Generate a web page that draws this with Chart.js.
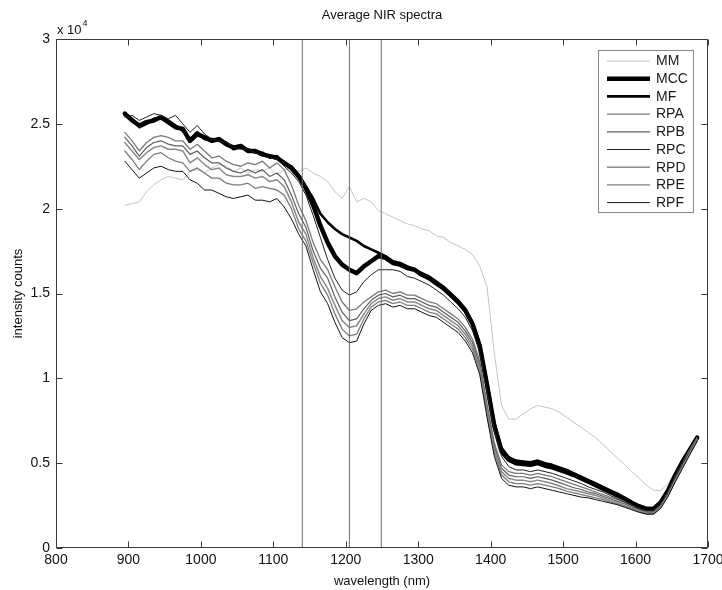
<!DOCTYPE html>
<html><head><meta charset="utf-8">
<script src="https://cdn.jsdelivr.net/npm/chart.js@4/dist/chart.umd.min.js"></script>
<style>html,body{margin:0;padding:0;background:#fff;}canvas{display:block}</style>
</head><body>
<canvas id="c" width="722" height="590"></canvas>
<script>
// wavelength (nm)
const wavelengths = [
895,905,915,925,935,945,955,965,975,985,
995,1005,1015,1025,1035,1045,1055,1065,1075,1085,
1095,1105,1115,1125,1135,1145,1155,1165,1175,1185,
1195,1205,1215,1225,1235,1245,1255,1265,1275,1285,
1295,1305,1315,1325,1335,1345,1355,1365,1375,1385,
1395,1405,1415,1425,1435,1445,1455,1465,1475,1485,
1495,1505,1515,1525,1535,1545,1555,1565,1575,1585,
1595,1605,1615,1625,1635,1645,1655,1665,1675,1685];

// intensity counts, in thousands
const MM = [
20.2,20.3,20.4,21.0,21.4,21.7,21.9,21.8,21.7,22.2,
22.3,22.1,22.4,22.6,22.5,22.2,22.4,22.1,22.3,22.2,
22.4,22.0,22.3,22.4,22.2,22.4,22.1,21.9,21.6,21.0,
20.6,21.3,20.4,20.6,20.4,19.9,19.7,19.5,19.3,19.1,
19.0,18.8,18.7,18.4,18.3,18.0,17.8,17.6,17.3,16.6,
15.4,11.5,8.4,7.6,7.6,7.9,8.2,8.4,8.3,8.2,
8.0,7.7,7.4,7.1,6.8,6.5,6.1,5.7,5.3,4.9,
4.5,4.1,3.7,3.4,3.4,3.8,4.5,5.3,5.9,6.4];
const MCC = [
25.6,25.2,24.9,25.1,25.2,25.4,25.1,24.8,24.7,24.0,
24.4,24.2,24.0,24.1,23.8,23.6,23.7,23.4,23.4,23.2,
23.1,23.0,22.7,22.4,21.9,21.2,20.2,19.0,18.0,17.2,
16.7,16.4,16.2,16.6,16.9,17.2,17.1,16.8,16.7,16.5,
16.4,16.1,15.9,15.6,15.3,14.9,14.5,14.0,13.2,11.9,
9.6,7.2,5.7,5.2,5.0,4.95,4.9,5.0,4.85,4.75,
4.6,4.45,4.3,4.1,3.9,3.7,3.5,3.3,3.1,2.9,
2.65,2.45,2.3,2.3,2.7,3.4,4.3,5.1,5.8,6.5];
const MF = [
25.5,25.3,24.8,25.0,25.3,25.3,25.2,24.9,24.6,24.1,
24.5,24.1,24.1,24.0,23.9,23.5,23.6,23.5,23.3,23.3,
23.0,23.1,22.6,22.5,22.0,21.3,20.6,19.7,19.2,18.8,
18.5,18.3,18.1,17.8,17.6,17.4,17.2,16.9,16.8,16.6,
16.4,16.2,16.0,15.7,15.4,15.0,14.6,14.1,13.3,12.0,
9.8,7.4,5.9,5.35,5.15,5.1,5.05,5.15,5.0,4.9,
4.75,4.6,4.4,4.2,4.0,3.8,3.6,3.4,3.2,2.95,
2.7,2.5,2.35,2.35,2.75,3.45,4.35,5.15,5.85,6.55];
const RPA = [
24.5,24.0,23.4,23.9,24.2,24.3,24.2,24.0,24.0,23.5,
23.8,23.4,23.0,23.1,22.8,22.6,22.5,22.7,22.6,22.8,
22.4,22.7,22.3,21.4,20.2,19.3,18.0,17.0,16.4,15.4,
14.5,14.0,14.1,14.5,14.8,15.1,15.2,15.0,15.1,14.9,
14.9,14.7,14.5,14.4,14.1,13.8,13.5,13.0,12.3,11.0,
8.5,6.2,4.9,4.5,4.4,4.4,4.3,4.4,4.3,4.2,
4.05,3.9,3.75,3.6,3.45,3.3,3.15,3.0,2.85,2.7,
2.5,2.3,2.15,2.15,2.55,3.3,4.2,5.0,5.8,6.5];
const RPB = [
24.2,23.7,23.1,23.6,23.9,24.0,23.8,23.7,23.7,23.2,
23.4,23.0,22.7,22.7,22.4,22.2,22.1,22.3,22.1,22.3,
21.9,22.1,21.7,20.8,19.7,18.9,17.5,16.5,15.9,14.8,
13.9,13.4,13.5,14.1,14.6,14.9,15.0,14.8,14.9,14.7,
14.7,14.5,14.3,14.2,13.9,13.6,13.3,12.8,12.1,10.8,
8.3,6.0,4.7,4.3,4.2,4.2,4.1,4.2,4.1,4.0,
3.85,3.7,3.55,3.45,3.3,3.2,3.05,2.9,2.75,2.6,
2.4,2.25,2.1,2.1,2.5,3.2,4.1,4.9,5.7,6.4];
const RPC = [
25.4,25.5,25.2,25.4,25.6,25.5,25.3,25.5,25.0,24.5,
24.9,24.4,24.1,24.0,23.9,23.6,23.5,23.5,23.3,23.1,
23.0,22.9,22.5,22.1,21.6,20.8,19.6,18.3,17.0,15.9,
15.2,14.9,15.1,15.7,16.1,16.4,16.4,16.4,16.3,16.0,
15.9,15.7,15.5,15.2,14.9,14.5,14.1,13.6,12.8,11.5,
9.2,6.9,5.4,4.8,4.6,4.6,4.5,4.6,4.5,4.4,
4.25,4.1,3.95,3.8,3.6,3.45,3.3,3.1,2.9,2.7,
2.5,2.3,2.2,2.2,2.6,3.3,4.2,5.0,5.7,6.4];
const RPD = [
23.9,23.4,22.9,23.3,23.6,23.7,23.5,23.5,23.4,22.7,
23.0,22.6,22.3,22.4,22.0,21.9,21.9,22.0,21.8,21.9,
21.6,21.7,21.3,20.4,19.2,18.5,17.1,16.0,15.3,14.3,
13.4,13.0,13.1,13.8,14.4,14.7,14.8,14.6,14.7,14.5,
14.5,14.3,14.1,14.0,13.7,13.4,13.1,12.6,11.9,10.6,
8.1,5.8,4.5,4.1,4.0,4.0,3.9,4.0,3.9,3.8,
3.65,3.5,3.4,3.3,3.2,3.1,2.95,2.8,2.65,2.5,
2.35,2.2,2.05,2.05,2.45,3.15,4.0,4.8,5.6,6.3];
const RPE = [
23.4,22.9,22.3,22.8,23.2,23.3,23.0,22.8,22.7,22.2,
22.4,22.1,21.8,21.8,21.5,21.4,21.4,21.5,21.2,21.3,
21.2,21.1,20.8,20.0,18.8,18.1,16.8,15.6,14.9,13.8,
12.9,12.5,12.6,13.5,14.2,14.5,14.6,14.4,14.5,14.3,
14.3,14.1,13.9,13.8,13.5,13.2,12.9,12.4,11.7,10.4,
7.9,5.6,4.3,3.9,3.8,3.8,3.7,3.8,3.7,3.6,
3.5,3.35,3.25,3.15,3.05,2.95,2.85,2.7,2.6,2.45,
2.3,2.15,2.0,2.0,2.4,3.1,4.0,4.8,5.6,6.4];
const RPF = [
22.8,22.3,21.8,22.1,22.4,22.5,22.3,22.2,22.2,21.7,
21.5,21.1,21.1,20.9,20.7,20.6,20.7,20.8,20.5,20.5,
20.4,20.6,20.1,19.4,18.5,17.8,16.4,15.1,14.4,13.3,
12.4,12.1,12.2,13.2,14.0,14.3,14.4,14.2,14.3,14.1,
14.1,13.9,13.7,13.6,13.3,13.0,12.7,12.2,11.5,10.2,
7.7,5.4,4.1,3.7,3.6,3.6,3.5,3.6,3.5,3.4,
3.3,3.2,3.1,3.0,2.95,2.85,2.75,2.65,2.55,2.4,
2.25,2.1,2.0,2.0,2.35,3.05,3.9,4.7,5.5,6.3];

const seriesNames = ['MM','MCC','MF','RPA','RPB','RPC','RPD','RPE','RPF'];
const seriesValues = [MM, MCC, MF, RPA, RPB, RPC, RPD, RPE, RPF];
const markerWavelengths = [1140, 1205, 1249];
const xTickValues = [800,900,1000,1100,1200,1300,1400,1500,1600,1700];
const yTickValues = [0,5,10,15,20,25,30];

const styles = {
  MM:  {color:'#c4c4c4', width:1},
  MCC: {color:'#000000', width:4.5},
  MF:  {color:'#000000', width:2.6},
  RPA: {color:'#7a7a7a', width:1.3},
  RPB: {color:'#5e5e5e', width:1.2},
  RPC: {color:'#202020', width:1},
  RPD: {color:'#8a8a8a', width:1.5},
  RPE: {color:'#7e7e7e', width:1.3},
  RPF: {color:'#111111', width:1}
};
const FONT = '"Liberation Sans", Arial, Helvetica, sans-serif';

const datasets = [];
markerWavelengths.forEach(w => {
  datasets.push({label:'_marker', data:[{x:w,y:0},{x:w,y:30}], borderColor:'#6e6e6e', borderWidth:1, pointRadius:0, order:0});
});
seriesNames.forEach((n,k) => {
  datasets.push({
    label:n,
    data: wavelengths.map((w,i)=>({x:w, y:seriesValues[k][i]})),
    borderColor: styles[n].color, borderWidth: styles[n].width,
    pointRadius:0, tension:0, borderJoinStyle:'round', borderCapStyle:'round',
    order: 10 - k
  });
});

const frame = {
  id:'frame',
  afterDatasetsDraw(chart){
    const {ctx, chartArea:a, scales:{x,y}} = chart;
    ctx.save();
    ctx.strokeStyle = '#3a3a3a'; ctx.lineWidth = 1;
    const L = Math.round(a.left)+0.5, R = Math.round(a.right)-0.5, T = Math.round(a.top)+0.5, B = Math.round(a.bottom)-0.5;
    ctx.beginPath();
    ctx.moveTo(L,T); ctx.lineTo(R,T); ctx.lineTo(R,B); ctx.lineTo(L,B); ctx.closePath();
    xTickValues.forEach(v => { const px = Math.round(x.getPixelForValue(v))+0.5;
      ctx.moveTo(px,B); ctx.lineTo(px,B-6); ctx.moveTo(px,T); ctx.lineTo(px,T+6); });
    yTickValues.forEach(v => { const py = Math.round(y.getPixelForValue(v))+0.5;
      ctx.moveTo(L,py); ctx.lineTo(L+6,py); ctx.moveTo(R,py); ctx.lineTo(R-6,py); });
    ctx.stroke();

    // title
    ctx.fillStyle = '#111';
    ctx.font = '13px ' + FONT;
    ctx.textAlign = 'center'; ctx.textBaseline = 'middle';
    ctx.fillText('Average NIR spectra', (a.left+a.right)/2, 15);
    // exponent
    ctx.textAlign = 'left'; ctx.textBaseline = 'alphabetic';
    ctx.font = '13px ' + FONT;
    ctx.fillText('x 10', a.left+1, 34);
    const w10 = ctx.measureText('x 10').width;
    ctx.font = '9px ' + FONT;
    ctx.fillText('4', a.left+1+w10+1, 26);

    // legend
    const bx = 598.5, by = 50.5, bw = 95, bh = 162;
    ctx.fillStyle = '#fff'; ctx.fillRect(bx, by, bw, bh);
    ctx.strokeStyle = '#888'; ctx.lineWidth = 1; ctx.strokeRect(bx, by, bw, bh);
    ctx.font = '14px ' + FONT; ctx.textBaseline = 'middle'; ctx.textAlign='left';
    seriesNames.forEach((n,i) => {
      const yy = 61 + i*17.7;
      ctx.beginPath(); ctx.strokeStyle = styles[n].color; ctx.lineWidth = styles[n].width;
      ctx.lineCap = 'butt';
      ctx.moveTo(607, yy); ctx.lineTo(650, yy); ctx.stroke();
      ctx.fillStyle = '#1a1a1a';
      ctx.fillText(n, 656, yy+0.5);
    });
    ctx.restore();
  }
};

new Chart(document.getElementById('c'), {
  type:'line',
  data:{datasets},
  options:{
    responsive:false, animation:false, devicePixelRatio:1,
    layout:{padding:{top:39, right:14, left:0, bottom:0}},
    plugins:{legend:{display:false}, tooltip:{enabled:false}, title:{display:false}},
    scales:{
      x:{type:'linear', min:800, max:1700,
        afterBuildTicks(s){ s.ticks = xTickValues.map(v=>({value:v})); },
        afterFit(s){ s.height = 42; s.paddingLeft = 0; s.paddingRight = 0; },
        grid:{display:false, drawTicks:false}, border:{display:false},
        ticks:{autoSkip:false, maxRotation:0, padding:4, color:'#111', font:{family:FONT, size:14}, callback:v => String(v)},
        title:{display:true, text:'wavelength (nm)', color:'#111', font:{family:FONT, size:13}, padding:{top:0,bottom:1}}
      },
      y:{type:'linear', min:0, max:30,
        afterBuildTicks(s){ s.ticks = yTickValues.map(v=>({value:v})); },
        afterFit(s){ s.width = 56; s.paddingTop = 0; s.paddingBottom = 0; },
        grid:{display:false, drawTicks:false}, border:{display:false},
        ticks:{padding:6, color:'#111', font:{family:FONT, size:14}, callback:v => String(v/10)},
        title:{display:true, text:'intensity counts', color:'#111', font:{family:FONT, size:13}, padding:{top:11,bottom:0}}
      }
    }
  },
  plugins:[frame]
});
</script>
</body></html>
